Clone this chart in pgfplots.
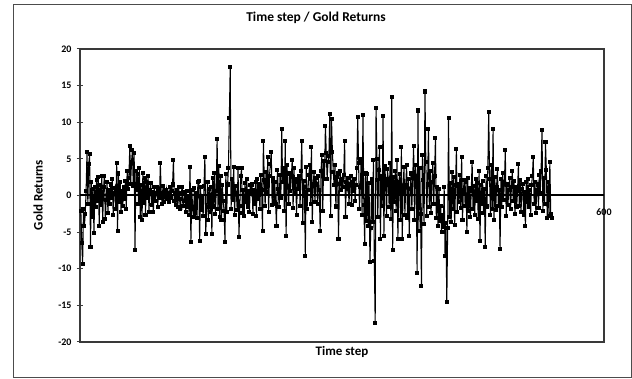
\documentclass[border=0pt]{standalone}
\usepackage{pgfplots}
\pgfplotsset{compat=1.18}
\usepackage{pgfplotstable}
\usepackage{fontspec}
\setmainfont{Carlito}
\pgfplotstableread[header=false,row sep=\\]{
-2.1\\ -6.5\\ -9.3\\ -1.8\\ -4.2\\ -2.5\\ 0.6\\ 5.9\\ -1.2\\ 4.3\\
5.6\\ -7.0\\ 1.8\\ -2.9\\ 0.9\\ -5.1\\ 1.2\\ -1.6\\ 2.1\\ -0.8\\
2.5\\ -4.1\\ 1.4\\ -1.3\\ 2.6\\ -3.6\\ 1.1\\ 2.7\\ -3.2\\ -0.6\\
1.9\\ -2.4\\ 0.8\\ -1.1\\ 1.5\\ -0.3\\ 2.2\\ -2.7\\ 0.4\\ 1.0\\
-1.9\\ 4.4\\ -4.9\\ 3.0\\ -0.9\\ 1.8\\ -2.2\\ 0.6\\ -1.4\\ 1.2\\
-0.5\\ 2.0\\ -1.8\\ 3.4\\ 0.9\\ 2.4\\ 6.7\\ 1.6\\ 4.6\\ 6.2\\
1.3\\ 5.8\\ -7.4\\ 3.3\\ 0.7\\ 2.9\\ -1.2\\ 3.7\\ -2.9\\ 1.4\\
-3.4\\ 3.1\\ -1.0\\ 2.4\\ -2.6\\ 1.9\\ -0.4\\ 2.6\\ -2.2\\ 0.8\\
1.7\\ -1.3\\ 0.5\\ -2.3\\ 1.2\\ -0.7\\ 0.3\\ 1.1\\ -1.6\\ 0.9\\
-0.4\\ 4.4\\ 0.4\\ -1.2\\ 1.3\\ -0.9\\ 0.7\\ -0.2\\ 0.8\\ -0.5\\
0.3\\ -0.9\\ 1.1\\ -0.4\\ 0.6\\ 1.5\\ 4.9\\ -0.8\\ 0.4\\ -1.3\\
0.7\\ -1.6\\ 1.2\\ -0.5\\ -1.9\\ 0.3\\ 1.2\\ -1.4\\ -0.8\\ 0.5\\
-2.2\\ 0.6\\ -1.5\\ -0.3\\ -2.6\\ 3.9\\ -6.4\\ 0.8\\ -1.8\\ -2.9\\
1.0\\ -2.4\\ 0.4\\ -3.1\\ 1.9\\ 2.0\\ -6.2\\ 1.1\\ -2.0\\ -0.4\\
-2.8\\ 1.3\\ 5.3\\ -5.2\\ -1.6\\ 1.8\\ -3.3\\ 0.9\\ -2.2\\ 1.2\\
-5.2\\ 2.4\\ -1.5\\ 3.1\\ -2.5\\ 0.6\\ 7.7\\ -1.8\\ 4.0\\ -2.9\\
2.6\\ -3.4\\ 1.4\\ -0.8\\ -2.1\\ -6.3\\ 2.9\\ -2.2\\ 1.5\\ 3.8\\
10.6\\ 17.6\\ -1.9\\ 2.3\\ -0.6\\ 3.9\\ -2.7\\ 1.3\\ 0.4\\ -2.0\\
3.8\\ -5.7\\ -1.4\\ 2.6\\ 3.7\\ -2.4\\ 0.8\\ -2.8\\ 1.7\\ -0.9\\
2.2\\ -1.5\\ 0.6\\ -2.3\\ 1.4\\ 0.4\\ 1.5\\ -2.5\\ 0.8\\ -1.2\\
1.9\\ -2.8\\ 2.3\\ -0.5\\ 1.6\\ -1.9\\ 2.8\\ 0.7\\ -4.8\\ 7.5\\
2.1\\ -1.4\\ 3.2\\ 0.5\\ 5.2\\ -2.2\\ 2.7\\ 4.3\\ 6.0\\ -1.3\\
2.4\\ -0.8\\ 1.9\\ -1.2\\ -4.1\\ 3.5\\ 0.9\\ -1.6\\ 2.8\\ -0.4\\
9.1\\ 1.8\\ 3.7\\ -2.1\\ 7.5\\ -5.5\\ 4.2\\ 1.3\\ -1.2\\ 3.0\\
0.6\\ 2.5\\ 4.9\\ -1.7\\ 3.8\\ 0.4\\ 1.9\\ -2.6\\ 2.2\\ 0.9\\
2.7\\ -1.4\\ 3.3\\ 7.5\\ -3.8\\ 2.0\\ 1.1\\ -8.2\\ 3.9\\ -1.9\\
0.7\\ 2.8\\ 4.1\\ -1.2\\ 6.6\\ -3.6\\ 1.5\\ 3.2\\ -0.9\\ 2.4\\
1.6\\ -1.2\\ 2.6\\ 0.8\\ -4.8\\ 3.4\\ 5.5\\ -2.1\\ 4.7\\ 2.3\\
9.5\\ 5.8\\ 2.3\\ 4.6\\ 5.4\\ 11.1\\ -2.8\\ 10.5\\ 6.0\\ 3.2\\
1.4\\ 4.1\\ -1.5\\ 2.5\\ 3.0\\ -6.0\\ 1.6\\ 3.4\\ 0.7\\ 2.2\\
1.1\\ 2.8\\ 7.5\\ -3.0\\ 1.8\\ 0.9\\ 2.4\\ -1.2\\ 1.5\\ 2.6\\
-1.3\\ 1.9\\ 0.6\\ 2.2\\ -0.8\\ 1.4\\ 3.8\\ 10.7\\ 4.4\\ -1.9\\
1.2\\ 5.0\\ -2.6\\ 11.0\\ -1.3\\ -6.6\\ 3.0\\ -3.5\\ 2.9\\ -4.2\\
1.7\\ -9.1\\ -4.4\\ 2.2\\ -3.6\\ 4.8\\ -8.9\\ -17.4\\ 11.9\\ 5.0\\
-3.0\\ 3.5\\ 6.6\\ -5.9\\ 2.6\\ -1.4\\ 10.8\\ -5.5\\ 4.0\\ 1.9\\
-2.8\\ 3.6\\ 2.2\\ -1.6\\ 4.5\\ -3.2\\ 13.4\\ -7.4\\ 2.5\\ -0.9\\
3.4\\ -2.1\\ 4.8\\ -5.9\\ 1.8\\ 2.9\\ -3.4\\ 6.6\\ -5.9\\ 1.2\\
3.9\\ -2.6\\ 1.4\\ 4.1\\ -3.1\\ 2.2\\ -5.5\\ 0.9\\ 3.0\\ -1.8\\
2.4\\ 6.8\\ -3.3\\ 4.2\\ 2.6\\ -10.6\\ 11.6\\ -4.8\\ 3.7\\ -2.5\\
-12.3\\ 5.5\\ 2.1\\ -3.9\\ 14.2\\ 4.6\\ -2.8\\ 1.5\\ 9.1\\ -1.6\\
3.3\\ -2.4\\ 1.8\\ 4.4\\ -1.2\\ 2.7\\ 7.9\\ -3.1\\ 1.2\\ -4.2\\
0.9\\ -3.5\\ -1.4\\ -5.0\\ -2.6\\ -4.3\\ 1.1\\ -8.2\\ -3.8\\ -14.6\\
-4.5\\ 10.6\\ -2.9\\ 1.7\\ -3.6\\ 3.2\\ -1.9\\ 2.5\\ -4.0\\ 1.4\\
6.3\\ -2.2\\ 1.6\\ -0.9\\ 2.8\\ -1.7\\ 5.3\\ -3.3\\ 0.8\\ 2.1\\
-1.4\\ 1.9\\ -5.0\\ 2.4\\ -2.1\\ 1.0\\ -3.0\\ 0.6\\ 4.6\\ -1.8\\
1.3\\ -2.6\\ 2.2\\ -0.8\\ 1.7\\ -3.2\\ 3.3\\ -6.2\\ 1.4\\ -1.1\\
2.0\\ -2.4\\ 0.9\\ -7.0\\ 2.6\\ -1.5\\ 3.8\\ 11.4\\ 2.2\\ -2.7\\
4.1\\ -1.8\\ 9.1\\ -3.4\\ 2.5\\ -2.0\\ 1.2\\ 3.6\\ -1.4\\ 0.7\\
-7.3\\ 2.3\\ -1.6\\ 3.1\\ -0.6\\ 1.8\\ 6.2\\ -2.8\\ 1.5\\ -1.3\\
0.8\\ 2.4\\ -1.9\\ 1.2\\ 3.3\\ -0.7\\ 2.0\\ -2.5\\ 1.1\\ -1.6\\
0.6\\ 4.3\\ -1.4\\ 2.1\\ -2.2\\ 0.9\\ 1.6\\ -2.7\\ 0.5\\ -4.1\\
1.8\\ -0.9\\ 2.3\\ -1.5\\ 0.7\\ -2.6\\ 1.4\\ 2.6\\ 5.3\\ -1.2\\
1.9\\ -2.4\\ 0.8\\ 1.5\\ -1.7\\ 2.8\\ 0.4\\ 3.4\\ 9.0\\ -2.1\\
2.4\\ -1.1\\ 7.3\\ 3.5\\ -3.1\\ 1.8\\ -2.8\\ 4.6\\ -2.5\\ -3.1\\
}\golddata
\begin{document}
\begin{tikzpicture}[x=1pt,y=1pt]
\path[fill=white] (0,0) rectangle (632,379);
\draw[line width=1pt, gray!60!black] (13,1) rectangle (631,374);
\begin{axis}[
  at={(80pt,37pt)}, anchor=south west, scale only axis,
  width=524pt, height=293pt,
  xmin=0, xmax=600, ymin=-20, ymax=20,
  ytick={-20,-15,...,20},
  xtick=\empty,
  axis line style={line width=1.3pt, gray!45!black},
  tick style={line width=1pt, gray!45!black},
  major tick length=6pt,
  tick align=center,
  ytick pos=left,
  /pgf/number format/assume math mode=true,
  yticklabel style={font=\fontsize{10}{12}\selectfont\bfseries, xshift=-2pt},
  clip=false,
]
\addplot[black, line width=1.05pt, mark=square*, mark size=1.5pt, mark options={solid,fill=black}]
  table[x expr=\coordindex+1, y index=0] {\golddata};
\addplot[black, line width=2pt, mark=none] coordinates {(0,0) (600,0)};
\node[font=\fontsize{10}{12}\selectfont\bfseries, anchor=north] at (axis cs:600,0) [yshift=-10pt] {600};
\end{axis}
\node[font=\fontsize{13.5}{16}\selectfont\bfseries] at (316,361) {Time step / Gold Returns};
\node[font=\fontsize{13}{15}\selectfont\bfseries, rotate=90] at (38,184) {Gold Returns};
\node[font=\fontsize{13}{15}\selectfont\bfseries] at (342,27) {Time step};
\end{tikzpicture}
\end{document}
